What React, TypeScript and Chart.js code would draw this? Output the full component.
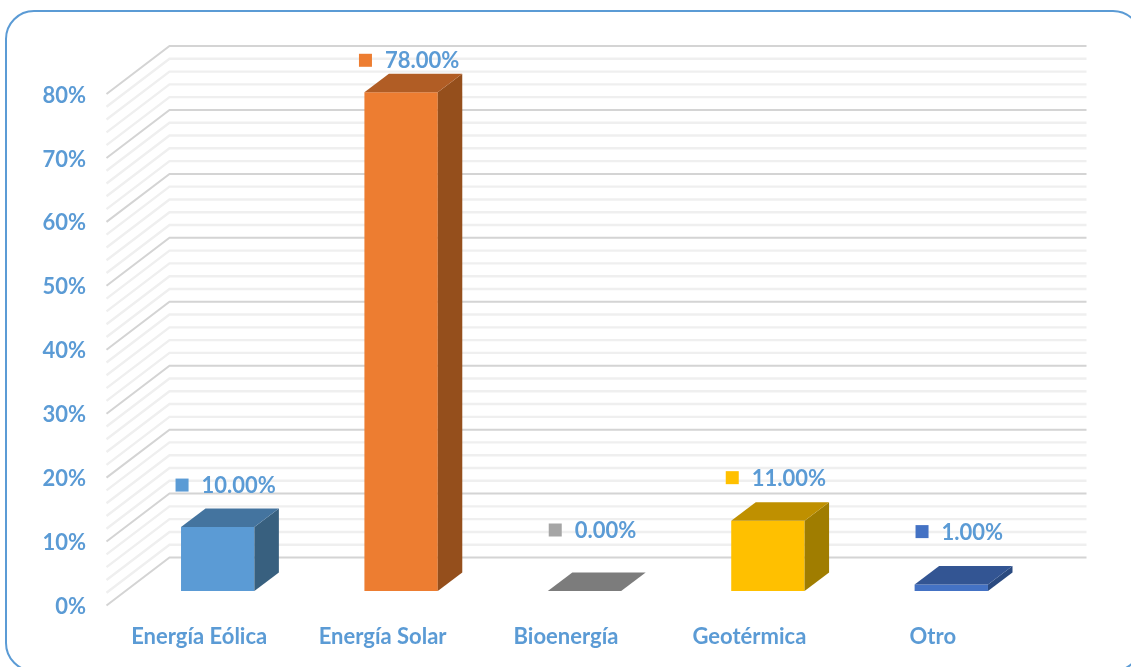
import React, { useEffect, useRef } from "react";
import { Chart, registerables } from "chart.js";

Chart.register(...registerables);

const categories = ["Energía Eólica", "Energía Solar", "Bioenergía", "Geotérmica", "Otro"];
const values = [10, 78, 0, 11, 1];
const frontColors = ["#5B9BD5", "#ED7D31", "#A5A5A5", "#FFC000", "#4472C4"];
const topColors = ["#44749F", "#B15D25", "#7C7C7C", "#BF9000", "#335593"];
const sideColors = ["#38607F", "#954F1C", "#676767", "#A07D00", "#2A4A80"];
const labelLift = [42, 32, 61, 43, 53];

const TEXT = "#5B9BD5";
const FONT = "Lato";
const wallFront = { dx: -19.5, dy: 14.5 };
const wallBack = { dx: 43.5, dy: -33.5 };
const barDepth = { dx: 24.5, dy: -18.5 };

const face = (ctx: CanvasRenderingContext2D, pts: number[][], color: string) => {
  ctx.beginPath();
  pts.forEach(([x, y], i) => (i ? ctx.lineTo(x, y) : ctx.moveTo(x, y)));
  ctx.closePath();
  ctx.fillStyle = color;
  ctx.fill();
};

const frame3d = {
  id: "frame3d",
  beforeDatasetsDraw(chart: any) {
    const { ctx, chartArea, scales } = chart;
    ctx.save();
    ctx.strokeStyle = "#5B9BD5";
    ctx.lineWidth = 2;
    ctx.beginPath();
    ctx.roundRect(6, 11, 1135, 660, 28);
    ctx.stroke();
    scales.y.ticks.forEach((t: any) => {
      const y = scales.y.getPixelForValue(t.value);
      const major = t.value % 10 === 0;
      ctx.strokeStyle = major ? "#D4D4D4" : "#EFEFEF";
      ctx.lineWidth = major ? 2 : 2.4;
      ctx.beginPath();
      ctx.moveTo(chartArea.left + wallFront.dx, y + wallFront.dy);
      ctx.lineTo(chartArea.left + wallBack.dx, y + wallBack.dy);
      ctx.lineTo(chartArea.right + wallBack.dx, y + wallBack.dy);
      ctx.stroke();
    });
    ctx.restore();
  },
  afterDatasetsDraw(chart: any) {
    const { ctx } = chart;
    const { dx, dy } = barDepth;
    ctx.save();
    chart.getDatasetMeta(0).data.forEach((bar: any, i: number) => {
      const l = bar.x - bar.width / 2;
      const r = bar.x + bar.width / 2;
      const t = bar.y;
      const b = bar.base;
      face(ctx, [[r, t], [r + dx, t + dy], [r + dx, b + dy], [r, b]], sideColors[i]);
      face(ctx, [[l, t], [l + dx, t + dy], [r + dx, t + dy], [r, t]], topColors[i]);

      const text = values[i].toFixed(2) + "%";
      ctx.font = `bold 22px ${FONT}`;
      const tw = ctx.measureText(text).width;
      const total = 13 + 13 + tw;
      const cx = bar.x + 8;
      const y = t - labelLift[i];
      const x0 = cx - total / 2;
      ctx.fillStyle = frontColors[i];
      ctx.fillRect(x0, y - 6.5, 13, 13);
      ctx.fillStyle = TEXT;
      ctx.textAlign = "left";
      ctx.textBaseline = "middle";
      ctx.fillText(text, x0 + 26, y + 1);
    });
    ctx.restore();
  },
};

export default function App() {
  const ref = useRef<HTMLCanvasElement>(null);
  useEffect(() => {
    const chart = new Chart(ref.current!, {
      type: "bar",
      data: {
        labels: categories,
        datasets: [
          {
            data: values,
            backgroundColor: frontColors,
            borderWidth: 0,
            barPercentage: 0.4,
            categoryPercentage: 1,
          },
        ],
      },
      plugins: [frame3d],
      options: {
        responsive: false,
        animation: false,
        layout: { padding: { top: 79.5, right: 88, left: 0, bottom: 0 } },
        plugins: { legend: { display: false }, tooltip: { enabled: false } },
        scales: {
          x: {
            grid: { display: false, drawTicks: false },
            border: { display: false },
            afterFit: (s: any) => { s.height = 76; },
            ticks: {
              color: TEXT,
              font: { family: FONT, size: 22, weight: "bold" },
              padding: 33,
              labelOffset: -18.5,
              maxRotation: 0,
            },
          },
          y: {
            min: 0,
            max: 80,
            grid: { display: false, drawTicks: false },
            border: { display: false },
            afterFit: (s: any) => { s.width = 126; },
            ticks: {
              stepSize: 2,
              autoSkip: false,
              color: TEXT,
              font: { family: FONT, size: 22, weight: "bold" },
              padding: 40,
              labelOffset: 16,
              callback: (v: any) => (v % 10 === 0 ? v + "%" : ""),
            },
          },
        },
      },
    } as any);
    return () => chart.destroy();
  }, []);
  return (
    <div style={{ position: "fixed", left: 0, top: 0, width: 1131, height: 667, overflow: "hidden", background: "#fff" }}>
      <canvas ref={ref} width={1131} height={667} style={{ display: "block", filter: "blur(0.35px)" }} />
    </div>
  );
}
